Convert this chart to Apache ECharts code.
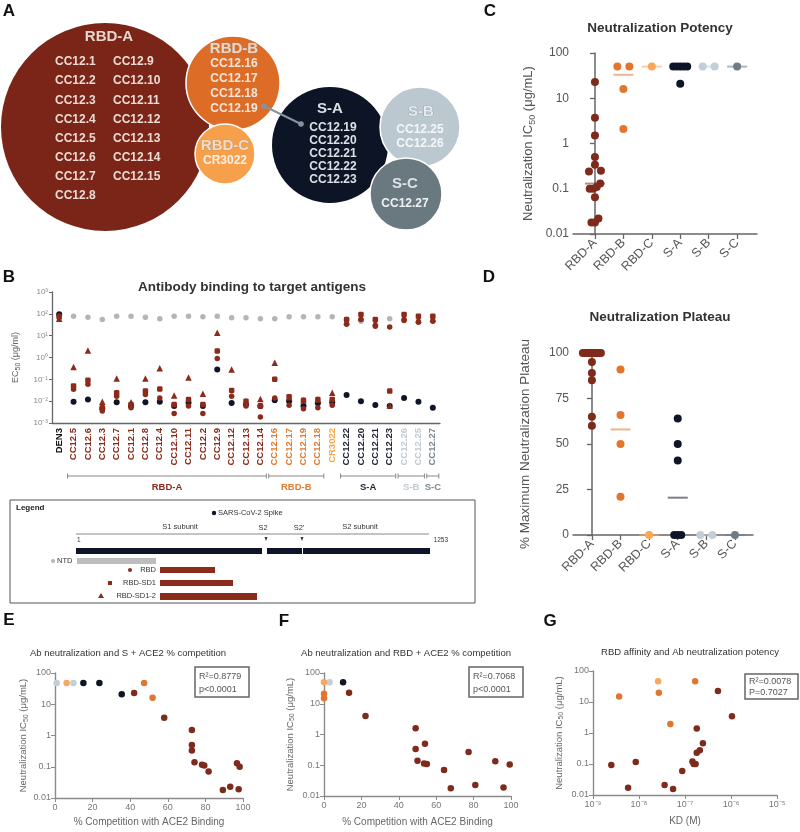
<!DOCTYPE html>
<html><head><meta charset="utf-8">
<script src="https://cdn.jsdelivr.net/npm/echarts/dist/echarts.min.js"></script>
<style>html,body{margin:0;padding:0;background:#fff}#c{width:800px;height:832px}</style>
</head><body><div id="c"></div>
<script>
// ---------------- DATA ----------------
// Panel A: groups and members
const groupNames = ['RBD-A','RBD-B','RBD-C','S-A','S-B','S-C'];
const membersRbdA1 = ['CC12.1','CC12.2','CC12.3','CC12.4','CC12.5','CC12.6','CC12.7','CC12.8'];
const membersRbdA2 = ['CC12.9','CC12.10','CC12.11','CC12.12','CC12.13','CC12.14','CC12.15'];
const membersRbdB = ['CC12.16','CC12.17','CC12.18','CC12.19'];
const membersRbdC = ['CR3022'];
const membersSA = ['CC12.19','CC12.20','CC12.21','CC12.22','CC12.23'];
const membersSB = ['CC12.25','CC12.26'];
const membersSC = ['CC12.27'];

// Panel B: EC50 (ug/ml)
const catsB = ['DEN3','CC12.5','CC12.6','CC12.3','CC12.7','CC12.1','CC12.8','CC12.4','CC12.10','CC12.11','CC12.2','CC12.9','CC12.12','CC12.13','CC12.14','CC12.16','CC12.17','CC12.19','CC12.18','CR3022','CC12.22','CC12.20','CC12.21','CC12.23','CC12.26','CC12.25','CC12.27'];
const catGroupB = [0,1,1,1,1,1,1,1,1,1,1,1,1,1,1,2,2,2,2,3,4,4,4,4,5,5,6];
const bNtd   = [null,78,70,55,78,78,70,59,78,78,73,78,66,66,59,59,73,73,73,73,55,46,50,59,60,60,60];
const bSpike = [95,0.0095,0.012,0.0045,0.009,0.006,0.009,0.0095,0.006,0.0085,0.006,0.28,0.0083,0.007,0.006,0.011,0.01,0.006,0.008,0.009,0.019,0.01,0.0066,0.006,0.014,0.0093,0.005];
const bRbd   = [80,0.035,0.06,0.0035,0.017,0.005,0.02,0.014,0.0027,0.006,0.0027,0.9,0.017,0.006,0.0019,0.014,0.0065,0.0045,0.005,0.0065,33,55,27,25,50,41,46];
const bSd1   = [70,0.05,0.09,0.005,0.024,0.007,0.029,0.036,0.007,0.012,0.007,2.0,0.031,0.01,0.006,0.1,0.016,0.011,0.012,0.012,55,93,55,0.029,93,78,78];
const bSd12  = [60,0.37,2.1,0.0093,0.11,0.009,0.11,0.32,0.018,0.12,0.022,13.5,0.28,0.01,0.0125,0.58,0.015,0.011,0.012,0.024,45,70,40,0.0063,70,55,60];

// Panel C: IC50 per group
const groupsCD = ['RBD-A','RBD-B','RBD-C','S-A','S-B','S-C'];
const cRbdA = [23,3.7,1.5,0.5,0.34,0.25,0.24,0.13,0.11,0.1,0.1,0.065,0.022,0.018,0.018];
const cRbdB = [50,50,16,2.1];
const cRbdC = [50];
const cSA = [50,50,50,50,50,21];
const cSB = [50,50];
const cSC = [50];

// Panel D: plateau %
const dRbdA = [100,100,100,100,100,100,100,100,100,100,95,89,85,65,60];
const dRbdB = [91,66,50,21];
const dRbdC = [0];
const dSA = [64,50,41,0,0,0];
const dSB = [0,0];
const dSC = [0];

// Panel E: [% competition S+ACE2, IC50]
const eRbdA = [[42.1,23],[58.1,3.7],[72.8,1.5],[72.8,0.5],[72.8,0.33],[74.2,0.14],[78.2,0.115],[79.4,0.11],[81.7,0.07],[89.3,0.018],[93.2,0.023],[97.7,0.019],[96.8,0.13],[98.2,0.1]];
const eRbdB = [[47.4,48],[51.9,16]];
const eRbdC = [[6.2,48]];
const eSA = [[15.1,48],[23.6,48],[35.5,21]];
const eSB = [[0.9,48],[9.8,48]];

// Panel F: [% competition RBD+ACE2, IC50]
const fRbdA = [[13.4,23],[22.2,4],[49,1.6],[49,0.34],[50,0.14],[54,0.5],[53.5,0.115],[55,0.11],[64.2,0.07],[67.8,0.018],[77.3,0.27],[80.9,0.023],[91.6,0.135],[96,0.019],[99.3,0.105]];
const fRbdB = [[0,21],[0,15]];
const fRbdC = [[0,50]];
const fSA = [[10.2,50]];
const fSB = [[3,50]];

// Panel G: [KD (M), IC50]
const gRbdA = [[2.5e-9,0.093],[5.8e-9,0.017],[8.5e-9,0.115],[3.6e-8,0.021],[5.5e-8,0.0155],[8.7e-8,0.06],[1.45e-7,0.12],[1.55e-7,0.1],[1.7e-7,0.1],[1.8e-7,0.23],[2.1e-7,0.28],[2.45e-7,0.47],[1.8e-7,1.4],[5.2e-7,22.5],[1.05e-6,3.5]];
const gRbdB = [[3.7e-9,15],[2.7e-8,20],[4.8e-8,1.95],[1.66e-7,47]];
const gRbdC = [[2.6e-8,47]];

// ---------------- STYLE ----------------
const FONT = '"Liberation Sans", Arial, sans-serif';
const COL = ['#7E2A1C','#E2762E','#F7A85A','#0F1528','#C3CED6','#6E7C86'];
const CIRC = ['#7A2517','#DD6C27','#F6A04B','#0D1425','#BCC8CF','#6A7880'];
const LABC = ['#111','#8B2A1A','#E07A30','#F5A849','#222638','#C0CAD2','#7A8890'];
const SUP = {'-':'⁻','0':'⁰','1':'¹','2':'²','3':'³','4':'⁴','5':'⁵','6':'⁶','7':'⁷','8':'⁸','9':'⁹'};
const pow10 = v => '10' + String(Math.round(Math.log10(v))).split('').map(c=>SUP[c]).join('');

function swarm(vals, ci, pyOf, pxPerCat){
  const items = vals.map(v=>({v, p: pyOf(v)})).sort((a,b)=>a.p-b.p);
  const clusters=[]; let cur=[];
  for(const it of items){ if(cur.length && it.p-cur[cur.length-1].p>4){clusters.push(cur);cur=[];} cur.push(it);}
  if(cur.length) clusters.push(cur);
  const out=[];
  for(const cl of clusters){ const n=cl.length; const W = n<2?0:(n===2?12:Math.min(18,3.5*(n-1)));
    cl.forEach((it,k)=>{ const off = n<2?0:(-W/2+W*k/(n-1)); out.push([ci+off/pxPerCat, it.v]); }); }
  return out;
}
function median(a){const s=[...a].sort((x,y)=>x-y);const n=s.length;return n%2?s[(n-1)/2]:(s[n/2-1]+s[n/2])/2;}

const chart = echarts.init(document.getElementById('c'), null, {renderer:'canvas'});

const grids = [
  {left:52, top:292, width:388, height:131},
  {left:573, top:53, width:184, height:181},
  {left:573, top:353, width:180, height:182},
  {left:55, top:673, width:188, height:125},
  {left:324, top:673, width:187, height:123},
  {left:593, top:671, width:184, height:124}
];
grids.forEach(g=>{g.containLabel=false; g.outerBoundsMode='none';});

const axLineBig = {lineStyle:{color:'#666', width:1.5}};
const axLineSm = {lineStyle:{color:'#8a8a8a', width:1.4}};
const subRich = {s:{fontSize:7, padding:[6,0,0,0], fontFamily:FONT, color:'#555'}};

const richB = {};
LABC.forEach((c,i)=>{richB['g'+i]={color:c, fontWeight:'bold', fontSize:9.5, fontFamily:FONT};});

const smallLab = {fontSize:9, color:'#777', fontFamily:FONT};
const xAxes = [
  {gridIndex:0, type:'category', data:catsB, boundaryGap:true, axisLine:{lineStyle:{color:'#666',width:1.3}},
   axisTick:{alignWithLabel:true, length:3, lineStyle:{color:'#666'}},
   axisLabel:{rotate:90, margin:5, interval:0, formatter:(v,i)=>'{g'+catGroupB[i]+'|'+v+'}', rich:richB}},
  {gridIndex:1, type:'value', min:-0.772, max:5.70, splitLine:{show:false}, axisLine:axLineBig,
   axisTick:{customValues:[0,1,2,3,4,5], length:5, lineStyle:{color:'#666',width:1.3}},
   axisLabel:{customValues:[0,1,2,3,4,5], rotate:45, margin:7, fontSize:12.5, color:'#555', fontFamily:FONT, formatter:v=>groupsCD[Math.round(v)]}},
  {gridIndex:2, type:'value', min:-0.66, max:5.63, splitLine:{show:false}, axisLine:axLineBig,
   axisTick:{customValues:[0,1,2,3,4,5], length:5, lineStyle:{color:'#666',width:1.3}},
   axisLabel:{customValues:[0,1,2,3,4,5], rotate:45, margin:7, fontSize:12.5, color:'#555', fontFamily:FONT, formatter:v=>groupsCD[Math.round(v)]}},
  {gridIndex:3, type:'value', min:0, max:100, interval:20, splitLine:{show:false}, axisLine:axLineSm,
   axisTick:{length:4, lineStyle:{color:'#8a8a8a'}}, axisLabel:Object.assign({margin:5}, smallLab),
   name:'% Competition with ACE2 Binding', nameLocation:'middle', nameGap:19, nameTextStyle:{fontSize:10, color:'#666', fontFamily:FONT}},
  {gridIndex:4, type:'value', min:0, max:100, interval:20, splitLine:{show:false}, axisLine:axLineSm,
   axisTick:{length:4, lineStyle:{color:'#8a8a8a'}}, axisLabel:Object.assign({margin:5}, smallLab),
   name:'% Competition with ACE2 Binding', nameLocation:'middle', nameGap:21, nameTextStyle:{fontSize:10, color:'#666', fontFamily:FONT}},
  {gridIndex:5, type:'log', logBase:10, min:1e-9, max:1e-5, splitLine:{show:false}, axisLine:axLineSm,
   axisTick:{length:4, lineStyle:{color:'#8a8a8a'}}, axisLabel:Object.assign({margin:5, formatter:pow10}, smallLab),
   name:'KD (M)', nameLocation:'middle', nameGap:21, nameTextStyle:{fontSize:10, color:'#666', fontFamily:FONT}}
];
const ic50Name = 'Neutralization IC{s|50} (μg/mL)';
const smallName = {fontSize:9.5, color:'#666', fontFamily:FONT, rich:{s:{fontSize:7, color:'#666', padding:[5,0,0,0], fontFamily:FONT}}};
const fmtNum = v=>String(+v.toPrecision(3));
const yAxes = [
  {gridIndex:0, type:'log', logBase:10, min:0.001, max:1000, splitLine:{show:false}, axisLine:{show:true, lineStyle:{color:'#666',width:1.3}},
   axisTick:{show:true, length:3, lineStyle:{color:'#666'}}, axisLabel:{fontSize:8, color:'#888', fontFamily:FONT, margin:4, formatter:pow10},
   name:'EC{s|50} (μg/ml)', nameLocation:'middle', nameGap:30, nameTextStyle:{fontSize:9, color:'#666', fontFamily:FONT, rich:subRich}},
  {gridIndex:1, type:'log', logBase:10, min:0.01, max:100, splitLine:{show:false}, axisLine:{show:true, ...axLineBig},
   axisTick:{show:true, length:5, lineStyle:{color:'#666',width:1.3}}, axisLabel:{fontSize:12, color:'#555', fontFamily:FONT, margin:4, formatter:fmtNum},
   name:ic50Name, nameLocation:'middle', nameGap:36, nameTextStyle:{fontSize:13, color:'#555', fontFamily:FONT, rich:{s:{fontSize:9, color:'#555', padding:[9,0,0,0], fontFamily:FONT}}}},
  {gridIndex:2, type:'value', min:0, max:100, interval:25, splitLine:{show:false}, axisLine:{show:true, ...axLineBig},
   axisTick:{show:true, length:5, lineStyle:{color:'#666',width:1.3}}, axisLabel:{fontSize:12, color:'#555', fontFamily:FONT, margin:4},
   name:'% Maximum Neutralization Plateau', nameLocation:'middle', nameGap:41, nameTextStyle:{fontSize:13.5, color:'#555', fontFamily:FONT}},
  {gridIndex:3, type:'log', logBase:10, min:0.01, max:100, splitLine:{show:false}, axisLine:{show:true, ...axLineSm},
   axisTick:{show:true, length:4, lineStyle:{color:'#8a8a8a'}}, axisLabel:Object.assign({margin:4, formatter:fmtNum}, smallLab),
   name:ic50Name, nameLocation:'middle', nameGap:25, nameTextStyle:smallName},
  {gridIndex:4, type:'log', logBase:10, min:0.01, max:100, splitLine:{show:false}, axisLine:{show:true, ...axLineSm},
   axisTick:{show:true, length:4, lineStyle:{color:'#8a8a8a'}}, axisLabel:Object.assign({margin:4, formatter:fmtNum}, smallLab),
   name:ic50Name, nameLocation:'middle', nameGap:28, nameTextStyle:smallName},
  {gridIndex:5, type:'log', logBase:10, min:0.01, max:100, splitLine:{show:false}, axisLine:{show:true, ...axLineSm},
   axisTick:{show:true, length:4, lineStyle:{color:'#8a8a8a'}}, axisLabel:Object.assign({margin:4, formatter:fmtNum}, smallLab),
   name:ic50Name, nameLocation:'middle', nameGap:28, nameTextStyle:smallName}
];

const series = [];
// Panel B series
const toPts = arr => arr.map((v,i)=>v==null?null:[i,v]).filter(d=>d);
const sc = (o)=>Object.assign({type:'scatter', silent:true}, o);
series.push(sc({xAxisIndex:0, yAxisIndex:0, symbol:'circle', symbolSize:5.5, itemStyle:{color:'#B5B5B5', opacity:1}, data:toPts(bNtd), z:2}));
series.push(sc({xAxisIndex:0, yAxisIndex:0, symbol:'circle', symbolSize:6, itemStyle:{color:'#0F1528', opacity:1}, data:toPts(bSpike), z:3}));
series.push(sc({xAxisIndex:0, yAxisIndex:0, symbol:'circle', symbolSize:5.5, itemStyle:{color:'#8C2A1B', opacity:1}, data:toPts(bRbd), z:4}));
series.push(sc({xAxisIndex:0, yAxisIndex:0, symbol:'roundRect', symbolSize:5.5, itemStyle:{color:'#8C2A1B', opacity:1}, data:toPts(bSd1), z:4}));
series.push(sc({xAxisIndex:0, yAxisIndex:0, symbol:'triangle', symbolSize:6.5, itemStyle:{color:'#8C2A1B', opacity:1}, data:toPts(bSd12), z:4}));

// Panel C/D
const cVals = [cRbdA,cRbdB,cRbdC,cSA,cSB,cSC];
const dVals = [dRbdA,dRbdB,dRbdC,dSA,dSB,dSC];
cVals.forEach((vals,gi)=>{
  series.push(sc({xAxisIndex:1, yAxisIndex:1, symbol:'rect', symbolSize:[20,2], z:1,
    itemStyle:{color:COL[gi], opacity:0.55}, data:[[gi, median(vals)]]}));
  series.push(sc({xAxisIndex:1, yAxisIndex:1, symbolSize:8, z:3, itemStyle:{color:COL[gi], opacity:1},
    data:swarm(vals, gi, v=>Math.log10(v)*45.25, 28.5)}));
});
dVals.forEach((vals,gi)=>{
  series.push(sc({xAxisIndex:2, yAxisIndex:2, symbol:'rect', symbolSize:[20,2], z:1,
    itemStyle:{color:COL[gi], opacity:0.55}, data:[[gi, median(vals)]]}));
  series.push(sc({xAxisIndex:2, yAxisIndex:2, symbolSize:8, z:3, itemStyle:{color:COL[gi], opacity:1},
    data:swarm(vals, gi, v=>v*1.82, 28.6)}));
});
// Panel E/F/G
const addXY = (data, gi, ax) => series.push(sc({xAxisIndex:ax, yAxisIndex:ax, symbolSize:6.5, z:3, itemStyle:{color:COL[gi], opacity:1}, data}));
addXY(eSB,4,3); addXY(eRbdC,2,3); addXY(eSA,3,3); addXY(eRbdB,1,3); addXY(eRbdA,0,3);
addXY(fSB,4,4); addXY(fRbdC,2,4); addXY(fSA,3,4); addXY(fRbdB,1,4); addXY(fRbdA,0,4);
addXY(gRbdC,2,5); addXY(gRbdB,1,5); addXY(gRbdA,0,5);

// ---------------- GRAPHICS ----------------
const G = [];
const txt = (text,x,y,font,fill,align='center',va='middle',extra={}) => G.push({type:'text', silent:true, style:Object.assign({text,x,y,font,fill,align,verticalAlign:va},extra)});
const letter = (t,x,y)=>txt(t,x,y,'bold 17px '+FONT,'#111');
letter('A',9,11); letter('B',9,277); letter('C',490,11); letter('D',489,277); letter('E',9,620); letter('F',284,621); letter('G',550,621);

// Panel A circles
const circ = (cx,cy,r,fill,stroke)=>G.push({type:'circle', silent:true, shape:{cx,cy,r}, style:{fill, stroke:stroke||null, lineWidth:1.5}});
circ(105,127,104,CIRC[0]);
circ(233,83,47,CIRC[1],'#fff');
circ(225,154,30,CIRC[2],'#fff');
circ(330,145,58,CIRC[3]);
circ(420,127,40,CIRC[4],'#fff');
circ(406,194,36,CIRC[5],'#fff');
const hdr = 'bold 15px '+FONT, lst = 'bold 12px '+FONT;
txt(groupNames[0],109,37,hdr,'#E6D6CC');
membersRbdA1.forEach((m,i)=>txt(m,55,62+i*19.1,lst,'#EADCD4','left'));
membersRbdA2.forEach((m,i)=>txt(m,113,62+i*19.1,lst,'#EADCD4','left'));
txt(groupNames[1],234,49,hdr,'#EED6C6',undefined,undefined,{stroke:'#9a8a80',lineWidth:0.6});
membersRbdB.forEach((m,i)=>txt(m,234,63.5+i*15,lst,'#F6E6DA'));
txt(groupNames[2],225,146,hdr,'#F2DCC8',undefined,undefined,{stroke:'#a09080',lineWidth:0.6});
membersRbdC.forEach((m,i)=>txt(m,225,161,lst,'#FBF0E6'));
txt(groupNames[3],330,109,hdr,'#DCE0E6');
membersSA.forEach((m,i)=>txt(m,333,128+i*12.8,lst,'#DCE0E6'));
txt(groupNames[4],421,112,hdr,'#E4EAEE',undefined,undefined,{stroke:'#8f9ba3',lineWidth:0.7});
membersSB.forEach((m,i)=>txt(m,420,129.5+i*13.8,lst,'#F4F7F9'));
txt(groupNames[5],405,184,hdr,'#DDE3E7');
membersSC.forEach((m,i)=>txt(m,405,204,lst,'#EEF2F4'));
G.push({type:'line', silent:true, shape:{x1:264,y1:106,x2:301,y2:124}, style:{stroke:'#8393A0', lineWidth:2}});
G.push({type:'circle', silent:true, shape:{cx:264,cy:106,r:2.8}, style:{fill:'#8393A0'}});
G.push({type:'circle', silent:true, shape:{cx:301,cy:124,r:2.8}, style:{fill:'#8393A0'}});

// Titles
txt('Antibody binding to target antigens',252,287,'bold 13.5px '+FONT,'#333');
txt('Neutralization Potency',660,28,'bold 13.5px '+FONT,'#333');
txt('Neutralization Plateau',660,317,'bold 13.5px '+FONT,'#333');
txt('Ab neutralization and S + ACE2 % competition',128,653,'9.5px '+FONT,'#333');
txt('Ab neutralization and RBD + ACE2 % competition',406,653,'9.5px '+FONT,'#333');
txt('RBD affinity and Ab neutralization potency',690,652,'9.5px '+FONT,'#333');

// R2 boxes
const rbox = (x,y,w,h,l1,l2)=>{G.push({type:'rect', silent:true, shape:{x,y,width:w,height:h}, style:{fill:'#fff', stroke:'#666', lineWidth:1.5}});
  txt(l1,x+4,y+h*0.32,'9px '+FONT,'#555','left'); txt(l2,x+4,y+h*0.74,'9px '+FONT,'#555','left');};
rbox(195,667,54,30,'R²=0.8779','p<0.0001');
rbox(469,667,54,30,'R²=0.7068','p<0.0001');
rbox(745,674,53,25,'R²=0.0078','P=0.7027');

// Legend schematic
const lf = '7.5px '+FONT;
G.push({type:'rect', silent:true, shape:{x:10,y:500,width:465,height:103}, style:{fill:null, stroke:'#555', lineWidth:1}});
txt('Legend',16,508,'bold 8px '+FONT,'#222','left');
G.push({type:'circle', silent:true, shape:{cx:214,cy:513,r:2.2}, style:{fill:'#0F1528'}});
txt('SARS-CoV-2 Spike',218,513,lf,'#333','left');
txt('S1 subunit',180,527,lf,'#333'); txt('S2',263,528,lf,'#333'); txt("S2'",299,528,lf,'#333'); txt('S2 subunit',360,527,lf,'#333');
G.push({type:'line', silent:true, shape:{x1:76,y1:534,x2:429,y2:534}, style:{stroke:'#888', lineWidth:1}});
txt('1',77,540,'6.5px '+FONT,'#333','left'); txt('1253',448,540,'6.5px '+FONT,'#333','right');
[266,302].forEach(x=>G.push({type:'polygon', silent:true, shape:{points:[[x-1.5,537],[x+1.5,537],[x,541]]}, style:{fill:'#333'}}));
[[76,262],[267,302],[303,430]].forEach(s=>G.push({type:'rect', silent:true, shape:{x:s[0],y:548,width:s[1]-s[0],height:6}, style:{fill:'#0F1528'}}));
G.push({type:'rect', silent:true, shape:{x:77,y:558,width:79,height:6}, style:{fill:'#BDBDBD'}});
G.push({type:'circle', silent:true, shape:{cx:53,cy:561,r:2}, style:{fill:'#B5B5B5'}});
txt('NTD',57,561,lf,'#333','left');
G.push({type:'rect', silent:true, shape:{x:160,y:567,width:55,height:6}, style:{fill:'#8C2A1B'}});
G.push({type:'circle', silent:true, shape:{cx:130,cy:570,r:2}, style:{fill:'#8C2A1B'}});
txt('RBD',156,570,lf,'#333','right');
G.push({type:'rect', silent:true, shape:{x:160,y:580,width:73,height:6}, style:{fill:'#8C2A1B'}});
G.push({type:'rect', silent:true, shape:{x:108,y:581,width:4,height:4}, style:{fill:'#8C2A1B'}});
txt('RBD-SD1',156,583,lf,'#333','right');
G.push({type:'rect', silent:true, shape:{x:160,y:593,width:97,height:7}, style:{fill:'#8C2A1B'}});
G.push({type:'polygon', silent:true, shape:{points:[[98,598],[104,598],[101,593]]}, style:{fill:'#8C2A1B'}});
txt('RBD-SD1-2',156,596,lf,'#333','right');

const option = {
  backgroundColor:'#fff', animation:false,
  textStyle:{fontFamily:FONT},
  grid:grids, xAxis:xAxes, yAxis:yAxes, series,
  graphic:{elements:G}
};
chart.setOption(option);

// Panel B group brackets, positioned from the category axis
const bracketGroups = [[1,14,'RBD-A',LABC[1]],[15,18,'RBD-B',LABC[2]],[20,23,'S-A',LABC[4]],[24,25,'S-B',LABC[5]],[26,26,'S-C',LABC[6]]];
const B2 = [];
bracketGroups.forEach(([a,b,name,c])=>{
  const xa = chart.convertToPixel({xAxisIndex:0}, a) - 6, xb = chart.convertToPixel({xAxisIndex:0}, b) + 6;
  B2.push({type:'line', silent:true, shape:{x1:xa,y1:476,x2:xb,y2:476}, style:{stroke:'#888', lineWidth:1}});
  B2.push({type:'line', silent:true, shape:{x1:xa,y1:473.5,x2:xa,y2:478.5}, style:{stroke:'#888', lineWidth:1}});
  B2.push({type:'line', silent:true, shape:{x1:xb,y1:473.5,x2:xb,y2:478.5}, style:{stroke:'#888', lineWidth:1}});
  B2.push({type:'text', silent:true, style:{text:name, x:(xa+xb)/2, y:487, font:'bold 9.5px '+FONT, fill:c, align:'center', verticalAlign:'middle'}});
});
chart.setOption({graphic:{elements:G.concat(B2)}});
</script></body></html>
